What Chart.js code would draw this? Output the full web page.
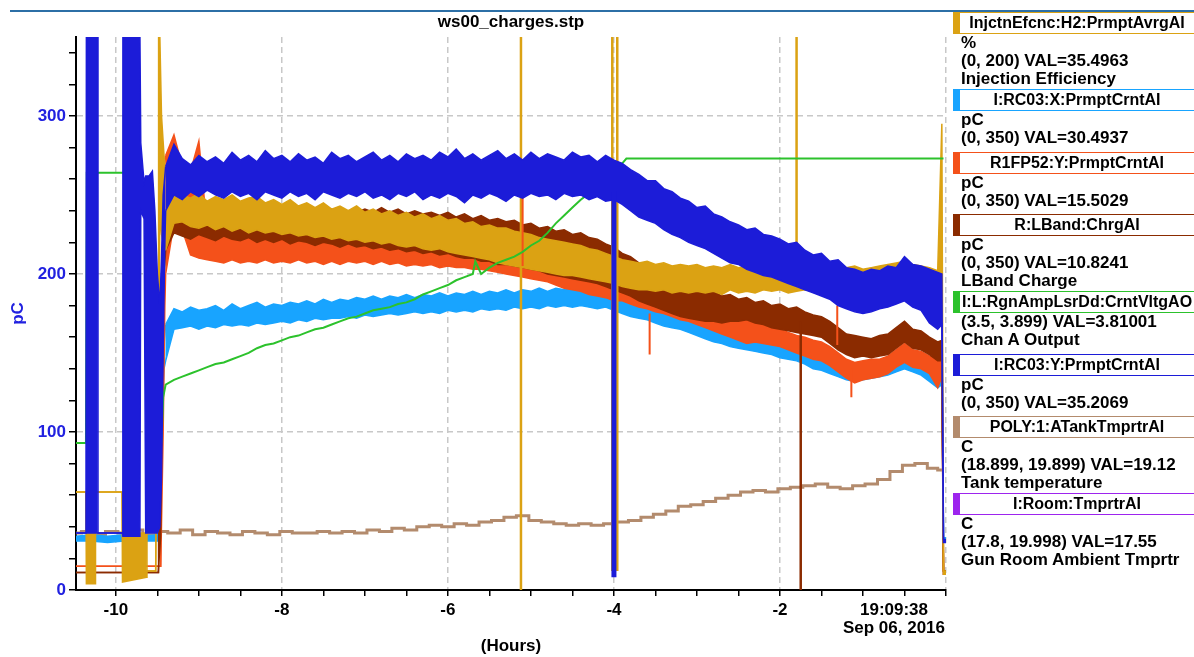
<!DOCTYPE html>
<html>
<head>
<meta charset="utf-8">
<script src="https://cdn.jsdelivr.net/npm/chart.js@4.4.1/dist/chart.umd.min.js"></script>
<style>
  html, body { margin: 0; padding: 0; background: #fff; overflow: hidden; }
  body { width: 1194px; height: 657px; position: relative; font-family: "Liberation Sans", Arial, sans-serif; font-weight: bold; }
  #topRule { position: absolute; left: 10px; top: 10px; width: 1184px; height: 2px; background: #2c6fa6; }
  #chart { position: absolute; left: 0; top: 0; }
  #stamp { position: absolute; left: 834px; top: 601px; width: 120px; text-align: center; font-size: 17px; line-height: 18px; color: #000; }
  #legend { position: absolute; left: 953px; top: 12px; width: 260px; }
  .entry { margin-bottom: 4.5px; }
  .entry.long { margin-bottom: 1px; }
  .box { width: 234px; height: 20px; line-height: 20px; border: 1px solid; border-left-width: 7px; text-align: center; font-size: 16px; color: #000; white-space: nowrap; }
  .line { font-size: 17px; line-height: 18px; padding-left: 8px; color: #000; white-space: nowrap; }
</style>
</head>
<body>
<div id="topRule"></div>
<canvas id="chart" width="1194" height="657"></canvas>
<div id="stamp">19:09:38<br>Sep 06, 2016</div>
<div id="legend"></div>
<script>
// legend
const legendNames = ["InjctnEfcnc:H2:PrmptAvrgAI", "I:RC03:X:PrmptCrntAI", "R1FP52:Y:PrmptCrntAI", "R:LBand:ChrgAI",
  "I:L:RgnAmpLsrDd:CrntVltgAO", "I:RC03:Y:PrmptCrntAI", "POLY:1:ATankTmprtrAI", "I:Room:TmprtrAI"];
const legendUnits = ["%", "pC", "pC", "pC", "", "pC", "C", "C"];
const legendRanges = ["(0, 200) VAL=35.4963", "(0, 350) VAL=30.4937", "(0, 350) VAL=15.5029", "(0, 350) VAL=10.8241",
  "(3.5, 3.899) VAL=3.81001", "(0, 350) VAL=35.2069", "(18.899, 19.899) VAL=19.12", "(17.8, 19.998) VAL=17.55"];
const legendNotes = ["Injection Efficiency", "", "", "LBand Charge", "Chan A Output", "", "Tank temperature", "Gun Room Ambient Tmprtr"];
const legendColors = ["#dba213", "#18a4ff", "#f4511a", "#8b2b00", "#2cc22c", "#1c1cd8", "#b38b6d", "#9d24ee"];

// axis ticks
const hourTicks = [-10, -9.5, -9, -8.5, -8, -7.5, -7, -6.5, -6, -5.5, -5, -4.5, -4, -3.5, -3, -2.5, -2, -1.5, -1, -0.5, 0];
const pcTicks = [0, 20, 40, 60, 80, 100, 120, 140, 160, 180, 200, 220, 240, 260, 280, 300, 320, 340];

// shared time grid for the noisy bands (hours before 19:09:38)
const mainHours = [
  -9.4, -9.3, -9.2, -9.1, -9.0, -8.9, -8.8, -8.7, -8.6, -8.5,
  -8.4, -8.3, -8.2, -8.1, -8.0, -7.9, -7.8, -7.7, -7.6, -7.5,
  -7.4, -7.3, -7.2, -7.1, -7.0, -6.9, -6.8, -6.7, -6.6, -6.5,
  -6.4, -6.3, -6.2, -6.1, -6.0, -5.9, -5.8, -5.7, -5.6, -5.5,
  -5.4, -5.3, -5.2, -5.1, -5.0, -4.9, -4.8, -4.7, -4.6, -4.5,
  -4.4, -4.3, -4.2, -4.1, -4.0, -3.9, -3.8, -3.7, -3.6, -3.5,
  -3.4, -3.3, -3.2, -3.1, -3.0, -2.9, -2.8, -2.7, -2.6, -2.5,
  -2.4, -2.3, -2.2, -2.1, -2.0, -1.9, -1.8, -1.7, -1.6, -1.5,
  -1.4, -1.3, -1.2, -1.1, -1.0, -0.9, -0.8, -0.7, -0.6, -0.5,
  -0.4, -0.3, -0.2, -0.1, -0.05, -0.03, 0
];

// I:RC03:Y (blue)
const rc03yHigh = [
  268, 282, 273, 269, 275, 271, 274, 270, 277, 272,
  275, 271, 278, 273, 275, 271, 276, 272, 274, 270,
  277, 273, 275, 271, 274, 277, 272, 275, 271, 276,
  273, 275, 272, 277, 274, 279, 273, 276, 272, 275,
  278, 273, 276, 272, 277, 273, 276, 274, 272, 277,
  274, 275, 271, 275, 272, 270, 266, 263, 259, 259,
  254, 252, 248, 246, 242, 243, 238, 236, 233, 231,
  228, 229, 225, 224, 222, 219, 220, 215, 212, 213,
  208, 209, 204, 203, 201, 203, 202, 205, 204, 211,
  206, 205, 203, 201, 200, 32, 32
];
const rc03yLow = [
  240, 250, 247, 252, 249, 253, 250, 248, 252, 249,
  251, 247, 252, 250, 248, 252, 249, 251, 247, 252,
  250, 248, 251, 249, 252, 248, 250, 247, 251, 249,
  252, 247, 250, 248, 251, 249, 245, 250, 248, 251,
  249, 246, 250, 248, 251, 249, 250, 247, 251, 249,
  250, 247, 249, 246, 247, 244, 240, 236, 234, 232,
  228, 225, 223, 220, 218, 216, 213, 210, 207, 206,
  203, 201, 199, 198, 196, 194, 192, 190, 188, 186,
  184, 180, 178, 176, 175, 176, 178, 179, 181, 183,
  179, 177, 169, 165, 168, 30, 30
];
const rc03yEarlyHours = [-10.48, -10.36, -10.355, -10.22, -10.215, -9.92, -9.915, -9.71, -9.70, -9.66,
  -9.64, -9.6, -9.56, -9.53, -9.5, -9.47, -9.45, -9.43, -9.41, -9.4];
const rc03yEarlyHigh = [36, 36, 350, 350, 36, 36, 350, 350, 283, 258, 262, 262, 265, 240, 200, 180, 210, 250, 262, 268];
const rc03yEarlyLow = [36, 36, 36, 36, 36, 36, 34, 34, 240, 235, 36, 36, 36, 36, 36, 40, 70, 150, 220, 240];
const rc03ySpikeHours = [-4.0, -4.0];
const rc03ySpike = [252, 8];

// InjctnEfcnc (gold)
const injHigh = [
  262, 253, 250, 248, 251, 246, 249, 247, 250, 246,
  248, 249, 245, 247, 244, 247, 243, 245, 242, 245,
  241, 243, 240, 243, 239, 241, 238, 240, 237, 239,
  236, 238, 235, 237, 234, 235, 232, 233, 230, 231,
  229, 229, 227, 226, 225, 223, 222, 221, 220, 219,
  218, 216, 215, 213, 211, 209, 208, 207, 208, 206,
  207, 205, 206, 205, 206, 204, 205, 204, 206, 204,
  205, 203, 205, 204, 205, 203, 204, 205, 203, 204,
  205, 206, 204, 205, 203, 204, 205, 206, 207, 208,
  206, 205, 204, 202, 295, 12, 12
];
const injLow = [
  215, 232, 233, 230, 229, 231, 228, 230, 227, 229,
  226, 228, 226, 227, 225, 226, 224, 225, 223, 224,
  222, 223, 221, 222, 220, 221, 219, 220, 218, 217,
  218, 216, 215, 216, 214, 213, 212, 211, 210, 209,
  207, 206, 205, 204, 203, 202, 201, 200, 199, 199,
  198, 197, 196, 195, 194, 192, 191, 190, 190, 189,
  190, 188, 189, 188, 189, 188, 189, 187, 190, 188,
  189, 188, 190, 189, 190, 188, 189, 190, 189, 190,
  191, 193, 194, 193, 194, 195, 196, 196, 197, 198,
  196, 195, 193, 190, 188, 10, 10
];
const injEarlyHours = [-10.48, -10.36, -10.355, -10.25, -10.245, -9.925, -9.92, -9.63, -9.625, -9.52,
  -9.515, -9.49, -9.485, -9.47, -9.45, -9.42, -9.4];
const injEarlyHigh = [62, 62, 36, 36, 62, 62, 36, 36, 12, 12, 62, 62, 350, 350, 300, 275, 262];
const injEarlyLow = [62, 62, 4, 4, 62, 62, 5, 8, 12, 12, 62, 62, 62, 240, 225, 218, 215];
const injSpikeHours = [-5.12, -5.12, -5.12, -4.02, -4.02, -4.02, -3.96, -3.96, -3.96, -1.8, -1.8];
const injSpike = [0, 350, null, 12, 350, null, 12, 350, null, 205, 350];

// R:LBand (brown)
const lbandHigh = [
  238, 244, 242, 240, 243, 240, 242, 239, 241, 238,
  241, 239, 240, 238, 241, 239, 240, 238, 240, 238,
  241, 238, 240, 239, 241, 239, 242, 239, 241, 238,
  240, 238, 239, 237, 239, 236, 238, 235, 237, 234,
  235, 233, 234, 231, 232, 229, 230, 227, 228, 225,
  226, 223, 222, 219, 217, 213, 211, 207, 204, 200,
  198, 195, 193, 191, 190, 188, 189, 186, 187, 184,
  185, 182, 183, 180, 181, 178, 179, 176, 174, 173,
  170, 166, 162, 161, 160, 159, 161, 162, 166, 170,
  165, 164, 160, 157, 158, 12, 12
];
const lbandLow = [
  215, 226, 224, 222, 225, 223, 221, 224, 222, 221,
  223, 220, 222, 220, 222, 219, 221, 220, 218, 220,
  219, 217, 219, 217, 218, 216, 217, 215, 216, 214,
  215, 213, 214, 212, 213, 211, 210, 210, 208, 208,
  206, 206, 205, 204, 203, 202, 200, 199, 198, 197,
  196, 195, 194, 192, 190, 188, 186, 183, 181, 179,
  177, 175, 173, 172, 171, 170, 170, 169, 170, 170,
  171, 169, 168, 166, 165, 164, 163, 162, 161, 160,
  156, 152, 149, 147, 148, 147, 148, 149, 153, 157,
  153, 152, 149, 145, 145, 10, 10
];
const lbandEarlyHours = [-10.48, -9.49, -9.485, -9.46, -9.43, -9.4];
const lbandEarlyHigh = [11, 11, 34, 60, 215, 238];
const lbandEarlyLow = [11, 11, 11, 34, 190, 215];
const lbandSpikeHours = [-1.75, -1.75];
const lbandSpike = [170, 0];

// R1FP52:Y (orange)
const r1fpHigh = [
  275, 288, 268, 265, 284, 228, 226, 223, 225, 222,
  224, 223, 225, 222, 224, 223, 226, 223, 225, 222,
  224, 222, 225, 223, 224, 222, 224, 221, 223, 221,
  222, 220, 222, 219, 221, 218, 220, 217, 218, 216,
  217, 214, 213, 212, 210, 209, 208, 206, 204, 202,
  200, 198, 197, 196, 195, 194, 192, 190, 189, 187,
  186, 185, 184, 181, 179, 177, 176, 174, 173, 172,
  171, 169, 168, 166, 165, 163, 161, 160, 158, 157,
  154, 150, 146, 144, 145, 146, 146, 148, 152, 156,
  152, 151, 148, 147, 150, 12, 12
];
const r1fpLow = [
  200, 232, 228, 212, 210, 209, 208, 207, 209, 207,
  208, 207, 209, 207, 208, 207, 209, 207, 208, 206,
  208, 206, 208, 207, 208, 206, 208, 206, 207, 205,
  206, 205, 206, 204, 205, 204, 204, 203, 203, 202,
  201, 200, 199, 198, 197, 196, 195, 193, 191, 190,
  189, 187, 186, 185, 183, 183, 181, 179, 178, 176,
  175, 173, 171, 170, 168, 166, 164, 162, 160, 158,
  156, 157, 156, 155, 154, 152, 150, 148, 146, 145,
  142, 138, 134, 131, 133, 134, 135, 137, 141, 144,
  141, 140, 137, 128, 135, 10, 10
];
const r1fpEarlyHours = [-10.48, -9.5, -9.46, -9.45, -9.43, -9.41, -9.4];
const r1fpEarlyHigh = [15, 15, 15, 120, 240, 270, 275];
const r1fpEarlyLow = [15, 15, 15, 42, 100, 180, 200];
const r1fpSpikeHours = [-5.1, -5.1, -5.1, -3.57, -3.57, -3.57, -1.31, -1.31, -1.31, -1.14, -1.14];
const r1fpSpike = [205, 254, null, 175, 149, null, 155, 180, null, 140, 122];

// I:RC03:X (light blue)
const rc03xHigh = [
  168, 178, 176, 179, 177, 178, 180, 177, 181, 178,
  180, 182, 179, 181, 180, 182, 181, 183, 181, 184,
  182, 184, 183, 185, 184, 186, 184, 186, 185, 187,
  185, 187, 186, 188, 186, 188, 187, 189, 187, 189,
  188, 190, 188, 190, 189, 191, 189, 191, 190, 192,
  190, 192, 190, 191, 188, 186, 184, 183, 182, 181,
  179, 177, 176, 174, 172, 170, 168, 167, 165, 164,
  163, 162, 161, 160, 159, 157, 156, 154, 152, 151,
  148, 146, 144, 143, 143, 144, 145, 146, 149, 151,
  148, 146, 143, 139, 141, 33, 33
];
const rc03xLow = [
  145, 165, 166, 167, 165, 167, 166, 168, 167, 168,
  167, 169, 168, 169, 170, 169, 171, 170, 172, 171,
  172, 172, 173, 172, 174, 173, 174, 175, 174, 175,
  176, 175, 176, 175, 177, 176, 177, 176, 178, 177,
  178, 177, 179, 178, 179, 178, 180, 179, 180, 179,
  180, 179, 178, 179, 177, 175, 173, 172, 171, 169,
  167, 166, 165, 163, 161, 159, 157, 156, 154, 153,
  152, 151, 150, 149, 147, 146, 145, 143, 140, 139,
  137, 135, 133, 132, 133, 134, 135, 136, 138, 140,
  138, 136, 132, 128, 130, 31, 31
];
const rc03xEarlyHours = [-10.48, -10.3, -10.1, -9.9, -9.7, -9.5, -9.48, -9.46, -9.44, -9.42, -9.4];
const rc03xEarlyHigh = [34, 35, 34, 35, 34, 35, 60, 110, 140, 155, 168];
const rc03xEarlyLow = [31, 31, 30, 31, 31, 31, 36, 70, 115, 140, 145];
const rc03xSpikeHours = [-4.0, -4.0];
const rc03xSpike = [185, 28];

// I:L:RgnAmpLsrDd (green)
const lsrHours = [
  -10.48, -10.36, -10.35, -9.9, -9.9, -9.63, -9.48, -9.47, -9.45, -9.43,
  -9.4, -9.3, -9.2, -9.1, -9.0, -8.9, -8.8, -8.7, -8.6, -8.5,
  -8.4, -8.3, -8.2, -8.1, -8.0, -7.9, -7.8, -7.7, -7.6, -7.5,
  -7.4, -7.3, -7.2, -7.1, -7.0, -6.9, -6.8, -6.7, -6.6, -6.5,
  -6.4, -6.3, -6.2, -6.1, -6.0, -5.9, -5.8, -5.7, -5.67, -5.6,
  -5.5, -5.4, -5.3, -5.2, -5.1, -5.0, -4.9, -4.8, -4.7, -4.6,
  -4.5, -4.4, -4.3, -4.2, -4.1, -4.0, -3.9, -3.85, -0.03
];
const lsrValues = [
  93, 93, 264, 264, null, 128, 128, 94, 94, 122,
  130, 133, 135, 137, 139, 141, 143, 144, 146, 148,
  150, 153, 155, 156, 158, 160, 161, 163, 165, 166,
  168, 170, 172, 173, 175, 177, 178, 179, 181, 182,
  184, 187, 189, 191, 193, 196, 198, 200, 208, 200,
  204, 207, 209, 211, 214, 218, 221, 226, 232, 237,
  242, 247, 251, 255, 260, 265, 270, 273, 273
];

// POLY:1:ATankTmprtrAI (tan)
const tankHours = [
  -10.48, -10.35, -10.2, -10.05, -9.9, -9.75, -9.6, -9.45, -9.3, -9.15,
  -9.0, -8.85, -8.7, -8.55, -8.4, -8.25, -8.1, -7.95, -7.8, -7.65,
  -7.5, -7.35, -7.2, -7.05, -6.9, -6.75, -6.6, -6.45, -6.3, -6.15,
  -6.0, -5.85, -5.7, -5.55, -5.4, -5.25, -5.1, -4.95, -4.8, -4.65,
  -4.5, -4.35, -4.2, -4.05, -3.9, -3.75, -3.6, -3.45, -3.3, -3.15,
  -3.0, -2.85, -2.7, -2.55, -2.4, -2.25, -2.1, -1.95, -1.8, -1.65,
  -1.5, -1.35, -1.2, -1.05, -0.9, -0.75, -0.6, -0.45, -0.3, -0.15,
  -0.05
];
const tankValues = [
  36, 37, 35, 37, 36, 38, 35, 37, 36, 38,
  35, 37, 36, 35, 37, 36, 35, 37, 36, 36,
  37, 36, 37, 36, 38, 37, 39, 38, 40, 41,
  40, 42, 41, 43, 44, 46, 47, 44, 43, 42,
  41, 42, 41, 42, 43, 44, 46, 48, 50, 53,
  54, 56, 58, 60, 62, 63, 62, 64, 65, 66,
  67, 65, 64, 66, 67, 70, 75, 79, 80, 77,
  76
];

const FONT = "'Liberation Sans', Arial, sans-serif";

function pts(hours, vals) {
  return hours.map((h, i) => ({ x: h, y: vals[i] }));
}

// a noisy trace drawn as a filled envelope between its high and low edges
function band(hours, high, low, color) {
  return [
    { data: pts(hours, high), borderColor: color, borderWidth: 1.5, fill: false },
    { data: pts(hours, low), borderColor: color, backgroundColor: color, borderWidth: 1.5, fill: "-1" }
  ];
}

function trace(hours, vals, color, width, stepped) {
  return { data: pts(hours, vals), borderColor: color, borderWidth: width, fill: false, stepped: stepped || false };
}

const [cGold, cLight, cOrange, cBrown, cGreen, cBlue, cTan] = legendColors;

// first dataset ends up on top
const datasets = [
  trace(rc03ySpikeHours, rc03ySpike, cBlue, 5),
  ...band(mainHours, rc03yHigh, rc03yLow, cBlue),
  ...band(rc03yEarlyHours, rc03yEarlyHigh, rc03yEarlyLow, cBlue),
  trace(lsrHours, lsrValues, cGreen, 2),
  trace(r1fpSpikeHours, r1fpSpike, cOrange, 2),
  trace(injSpikeHours, injSpike, cGold, 2.5),
  ...band(mainHours, injHigh, injLow, cGold),
  ...band(injEarlyHours, injEarlyHigh, injEarlyLow, cGold),
  trace(lbandSpikeHours, lbandSpike, cBrown, 2.5),
  ...band(mainHours, lbandHigh, lbandLow, cBrown),
  ...band(lbandEarlyHours, lbandEarlyHigh, lbandEarlyLow, cBrown),
  ...band(mainHours, r1fpHigh, r1fpLow, cOrange),
  ...band(r1fpEarlyHours, r1fpEarlyHigh, r1fpEarlyLow, cOrange),
  trace(rc03xSpikeHours, rc03xSpike, cLight, 3),
  ...band(mainHours, rc03xHigh, rc03xLow, cLight),
  ...band(rc03xEarlyHours, rc03xEarlyHigh, rc03xEarlyLow, cLight),
  trace(tankHours, tankValues, cTan, 3, "middle")
];

new Chart(document.getElementById("chart"), {
  type: "line",
  data: { datasets: datasets },
  options: {
    responsive: false,
    animation: false,
    layout: { padding: { left: 0, right: 248, top: 0, bottom: 0 } },
    elements: { point: { radius: 0 }, line: { tension: 0 } },
    plugins: {
      legend: { display: false },
      tooltip: { enabled: false },
      title: {
        display: true,
        text: "ws00_charges.stp",
        fullSize: false,
        color: "#000",
        font: { family: FONT, size: 17, weight: "bold" },
        padding: { top: 12, bottom: 4.5 }
      }
    },
    scales: {
      x: {
        type: "linear",
        min: -10.48,
        max: 0,
        afterBuildTicks: s => { s.ticks = hourTicks.map(v => ({ value: v })); },
        afterFit: s => { s.height = 67; },
        ticks: {
          autoSkip: false,
          maxRotation: 0,
          padding: 4,
          color: "#000",
          font: { family: FONT, size: 17, weight: "bold" },
          callback: v => (v % 2 === 0 && v !== 0) ? String(v) : ""
        },
        grid: {
          color: c => (c.tick && c.tick.value % 2 === 0) ? "#c8c8c8" : "rgba(0,0,0,0)",
          lineWidth: 1.5,
          tickColor: "#000",
          tickLength: 6,
          tickWidth: 1.5
        },
        border: { display: true, color: "#000", width: 2, dash: [6, 4] },
        title: {
          display: true,
          text: "(Hours)",
          color: "#000",
          font: { family: FONT, size: 17, weight: "bold" },
          padding: { top: 0, bottom: 0 }
        }
      },
      y: {
        min: 0,
        max: 350,
        afterBuildTicks: s => { s.ticks = pcTicks.map(v => ({ value: v })); },
        afterFit: s => { s.width = 76; },
        ticks: {
          autoSkip: false,
          padding: 3,
          color: "#2121e0",
          font: { family: FONT, size: 17, weight: "bold" },
          callback: v => v % 100 === 0 ? String(v) : ""
        },
        grid: {
          color: c => (c.tick && c.tick.value % 100 === 0) ? "#c8c8c8" : "rgba(0,0,0,0)",
          lineWidth: 1.5,
          tickColor: "#000",
          tickLength: 7,
          tickWidth: 1.5
        },
        border: { display: true, color: "#000", width: 2, dash: [6, 4] },
        title: {
          display: true,
          text: "pC",
          color: "#2121e0",
          font: { family: FONT, size: 17, weight: "bold" },
          padding: { top: 8, bottom: 0 }
        }
      }
    }
  }
});

// right-hand legend boxes
const legendEl = document.getElementById("legend");
legendNames.forEach((name, i) => {
  const lines = [legendUnits[i], legendRanges[i], legendNotes[i]].filter(t => t);
  const entry = document.createElement("div");
  entry.className = lines.length > 2 ? "entry long" : "entry";
  const box = document.createElement("div");
  box.className = "box";
  box.style.borderColor = legendColors[i];
  box.textContent = name;
  entry.appendChild(box);
  lines.forEach(t => {
    const line = document.createElement("div");
    line.className = "line";
    line.textContent = t;
    entry.appendChild(line);
  });
  legendEl.appendChild(entry);
});
</script>
</body>
</html>
